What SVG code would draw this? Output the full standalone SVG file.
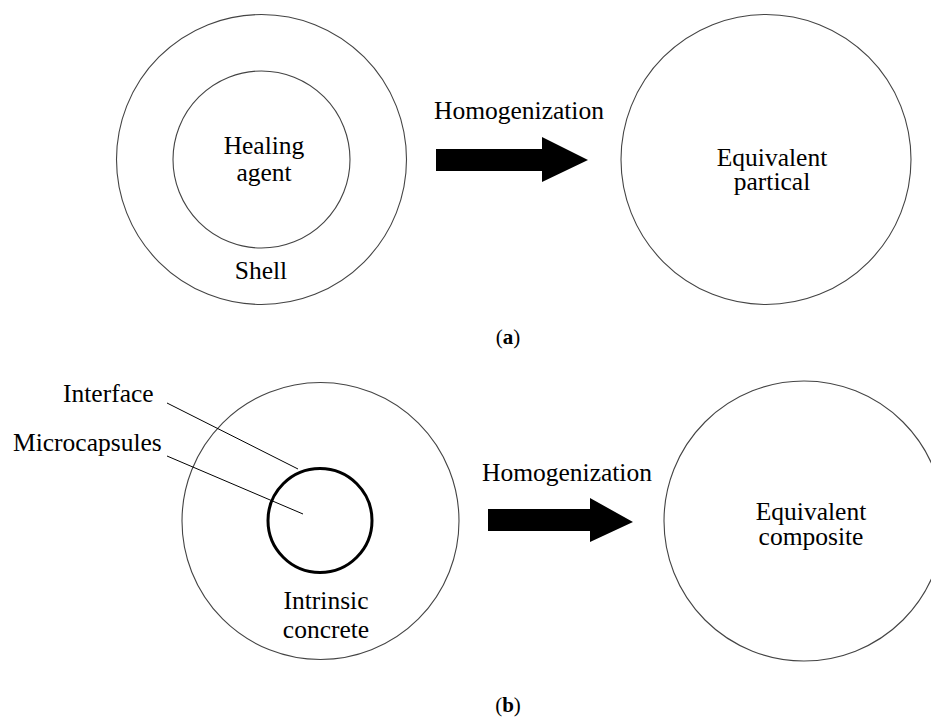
<svg xmlns="http://www.w3.org/2000/svg" width="931" height="719" viewBox="0 0 931 719">
<style>
.c{fill:none;stroke:#444;stroke-width:1.1}
.ck{fill:none;stroke:#000;stroke-width:3}
.t{font-family:"Liberation Serif","Times New Roman",serif;font-size:25.5px;fill:#000;text-anchor:middle}
.tl{font-family:"Liberation Serif","Times New Roman",serif;font-size:25.5px;fill:#000;text-anchor:start}
.cap{font-family:"Liberation Serif","Times New Roman",serif;font-size:21px;fill:#000;text-anchor:middle}
.ar{fill:#000}
.ln{stroke:#000;stroke-width:1;fill:none}
</style>
<rect width="931" height="719" fill="#fff"/>
<g id="a-shell">
<circle class="c" cx="261.5" cy="159.5" r="145"/>
<text class="t" x="261" y="279">Shell</text>
</g>
<g id="a-healing">
<circle class="c" cx="261.5" cy="159.5" r="88.5"/>
<text class="t" x="264" y="154">Healing</text>
<text class="t" x="264" y="181">agent</text>
</g>
<g id="a-equiv">
<circle class="c" cx="766" cy="159.5" r="145"/>
<text class="t" x="772" y="166">Equivalent</text>
<text class="t" x="772" y="190">partical</text>
</g>
<g id="a-arrow">
<text class="tl" x="434" y="119">Homogenization</text>
<polygon class="ar" points="436,149 542,149 542,137 588,160 542,182 542,171 436,171"/>
</g>
<text class="cap" x="508" y="344">(<tspan font-weight="bold">a</tspan>)</text>
<g id="b-concrete">
<circle class="c" cx="320.5" cy="521" r="138.5"/>
<text class="t" x="326" y="609">Intrinsic</text>
<text class="t" x="326" y="638">concrete</text>
</g>
<g id="b-micro">
<circle class="ck" cx="320" cy="520.5" r="52"/>
</g>
<g id="b-labels">
<text class="tl" x="63" y="402">Interface</text>
<text class="tl" x="13" y="451">Microcapsules</text>
</g>
<g id="connectors">
<line class="ln" x1="167" y1="403" x2="298" y2="469"/>
<line class="ln" x1="167" y1="456" x2="303" y2="514"/>
</g>
<g id="b-arrow">
<text class="tl" x="482" y="481">Homogenization</text>
<polygon class="ar" points="488,509 590,509 590,498 633,522 590,542 590,531 488,531"/>
</g>
<g id="b-equiv">
<circle class="c" cx="804" cy="521" r="140"/>
<text class="t" x="811" y="520">Equivalent</text>
<text class="t" x="811" y="545">composite</text>
</g>
<text class="cap" x="508" y="712">(<tspan font-weight="bold">b</tspan>)</text>
</svg>
